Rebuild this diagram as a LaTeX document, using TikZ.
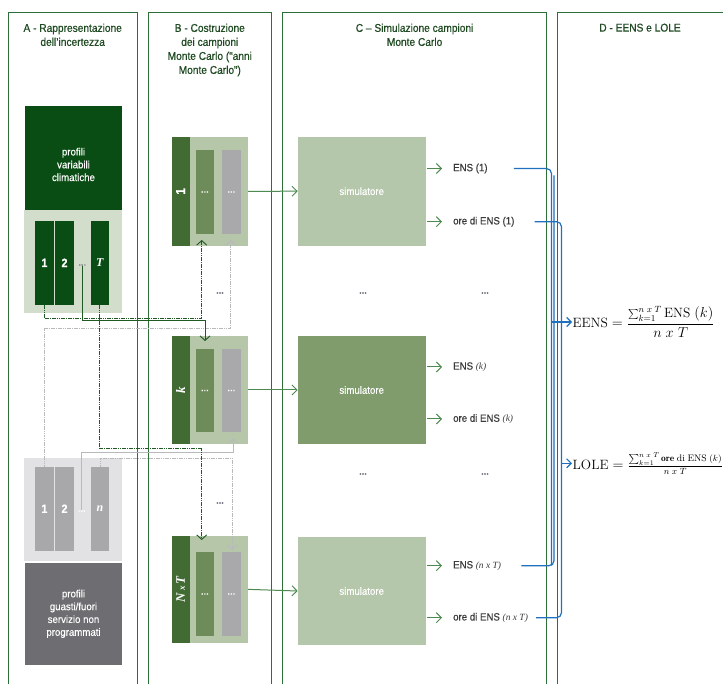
\documentclass[tikz,border=0pt]{standalone}
\usepackage{fontspec}
\newfontfamily\lsans{Liberation Sans}[FakeStretch=0.9, FakeBold=0.6]
\newfontfamily\lsansw{Liberation Sans}[FakeStretch=0.92, FakeBold=0.4]
\newfontfamily\lserif{Liberation Serif}
\usetikzlibrary{arrows.meta}
\definecolor{frameg}{HTML}{2E6E38}
\definecolor{titleg}{HTML}{1F4A22}
\definecolor{climdark}{HTML}{0A4D14}
\definecolor{climbg}{HTML}{D2DDCC}
\definecolor{outbg}{HTML}{E2E2E4}
\definecolor{outbar}{HTML}{A8A8AB}
\definecolor{outdark}{HTML}{6E6D71}
\definecolor{blkbg}{HTML}{B5C6A9}
\definecolor{stripg}{HTML}{416B33}
\definecolor{midbar}{HTML}{6E8B5A}
\definecolor{graybar}{HTML}{A9A9AC}
\definecolor{simlight}{HTML}{B5C7AA}
\definecolor{simdark}{HTML}{809B6C}
\definecolor{lineg}{HTML}{1E5A22}
\definecolor{linegray}{HTML}{B9B9BB}
\definecolor{arrowg}{HTML}{4E8A50}
\definecolor{bluec}{HTML}{2070C0}
\definecolor{textdark}{HTML}{3A3A3A}
\definecolor{dotsc}{HTML}{4A4E5E}
\tikzset{
  panel/.style={draw=frameg, line width=0.9pt},
  titletxt/.style={font=\lsans\fontsize{11.3}{14}\selectfont, text=titleg, align=center, anchor=north, inner sep=0pt},
  box/.style={rectangle, draw=none, inner sep=0pt, outer sep=0pt},
  wtxt/.style={text=white, font=\lsansw\fontsize{10.5}{12.8}\selectfont, align=center},
  barlbl/.style={text=white, font=\lsans\bfseries\fontsize{12}{12}\selectfont},
  dotsw/.style={text=white, font=\lsans\bfseries\fontsize{9}{9}\selectfont},
  dotsd/.style={text=dotsc, font=\lsans\bfseries\fontsize{9}{9}\selectfont, inner sep=0pt},
  lbl/.style={text=textdark, font=\lsansw\fontsize{10.5}{12}\selectfont, anchor=west, inner sep=0pt},
  tipA/.style={-{Straight Barb[length=4.5pt,width=10pt]}},
  climln/.style={draw=lineg, line width=0.9pt, tipA},
  climdot/.style={climln, dash pattern=on 1.6pt off 0.7pt},
  grayln/.style={draw=linegray, line width=0.9pt, tipA},
  graydot/.style={grayln, dash pattern=on 1.6pt off 0.7pt},
  simarrow/.style={draw=arrowg, line width=1pt, -{Straight Barb[length=5pt,width=10pt]}},
  blueln/.style={draw=bluec, line width=1.2pt},
  bluearrow/.style={blueln, -{Straight Barb[length=4.5pt,width=9pt]}}
}
\begin{document}
\begin{tikzpicture}[x=1pt,y=-1pt]
\useasboundingbox (0,0) rectangle (723,684);
\fill[white] (0,0) rectangle (723,684);
% panels
\draw[panel] (8.3,700) -- (8.3,12) -- (137,12) -- (137,700);
\draw[panel] (148,700) -- (148,12) -- (271.5,12) -- (271.5,700);
\draw[panel] (282.5,700) -- (282.5,12) -- (546.7,12) -- (546.7,700);
\draw[panel] (557.7,700) -- (557.7,12) -- (740,12);
% titles
\node[titletxt] (tA) at (72.7,23.5) {A - Rappresentazione\\dell’incertezza};
\node[titletxt] (tB) at (209.8,23.5) {B - Costruzione\\dei campioni\\Monte Carlo (“anni\\Monte Carlo”)};
\node[titletxt] (tC) at (414.6,23.5) {C – Simulazione campioni\\Monte Carlo};
\node[titletxt] (tD) at (640,23.5) {D - EENS e LOLE};

% ---------- A: climate ----------
\node[box, fill=climdark, minimum width=97pt, minimum height=104pt] (clim) at (73.5,158) {};
\node[wtxt] (climtxt) at (73.5,164.5) {profili\\variabili\\climatiche};
\node[box, fill=climbg, minimum width=98pt, minimum height=103pt] (climbg) at (73,261.5) {};
\node[box, fill=climdark, minimum width=19pt, minimum height=84.3pt, barlbl] (c1) at (44.5,262.85) {1};
\node[box, fill=climdark, minimum width=19pt, minimum height=84.3pt, barlbl] (c2) at (64.5,262.85) {2};
\node[box, fill=climdark, minimum width=18.3pt, minimum height=84.3pt, barlbl] (cT) at (99.85,262.85) {\lserif\bfseries\itshape T};
\node[dotsd, text=gray] (cd) at (82.3,265) {…};

% ---------- A: outages ----------
\node[box, fill=outbg, minimum width=98pt, minimum height=103.3pt] (outbgn) at (73,509.35) {};
\node[box, fill=outbar, minimum width=19pt, minimum height=84pt, barlbl] (o1) at (44.5,508.7) {1};
\node[box, fill=outbar, minimum width=19pt, minimum height=84pt, barlbl] (o2) at (64.5,508.7) {2};
\node[box, fill=outbar, minimum width=18pt, minimum height=84pt, barlbl] (on) at (100,508.7) {\lserif\itshape n};
\node[dotsd, text=white] (od) at (81.7,511) {…};
\node[box, fill=outdark, minimum width=97pt, minimum height=102.3pt, wtxt] (outdk) at (73.5,613.85) {profili\\guasti/fuori\\servizio non\\programmati};

% ---------- B: samples ----------
\foreach \nm/\cy/\h/\by/\lab in {b1/191.35/108.7/192/{\lsans\bfseries 1}, bk/390/108/390.5/{\lserif\bfseries\itshape k}, bN/589.35/107.3/594/{\lserif\bfseries\itshape N\,{\fontsize{9}{9}\selectfont x}\,T}}{
  \node[box, fill=blkbg, minimum width=76.3pt, minimum height=\h pt] (\nm) at (209.85,\cy) {};
  \node[box, fill=stripg, minimum width=17.8pt, minimum height=\h pt, text=white, font=\fontsize{13}{13}\selectfont] (\nm s) at (180.6,\cy) {\rotatebox{90}{\lab}};
  \node[box, fill=midbar, minimum width=18.3pt, minimum height=83.5pt, dotsw] (\nm m) at (204.85,\by) {…};
  \node[box, fill=graybar, minimum width=18.7pt, minimum height=83.5pt, dotsw] (\nm g) at (231.35,\by) {…};
}
\node[dotsd] (bd1) at (220,293) {…};
\node[dotsd] (bd2) at (220,503) {…};

% ---------- C: simulators ----------
\node[box, fill=simlight, minimum width=128pt, minimum height=109pt, wtxt] (s1) at (361.7,191.2) {simulatore};
\node[box, fill=simdark, minimum width=128pt, minimum height=108pt, wtxt] (sk) at (361.7,390) {simulatore};
\node[box, fill=simlight, minimum width=128pt, minimum height=108pt, wtxt] (sN) at (361.7,591) {simulatore};
\node[dotsd] (cd1) at (363,293) {…};
\node[dotsd] (cd2) at (485,293) {…};
\node[dotsd] (cd3) at (363,474) {…};
\node[dotsd] (cd4) at (485,474) {…};

\node[lbl] (e1) at (453,168.5) {ENS (1)};
\node[lbl] (o1l) at (453,221.7) {ore di ENS (1)};
\node[lbl] (ek) at (453,367) {ENS {\lserif\itshape\fontsize{9.5}{10}\selectfont (k)}};
\node[lbl] (okl) at (453,419) {ore di ENS {\lserif\itshape\fontsize{9.5}{10}\selectfont (k)}};
\node[lbl] (eN) at (453,565.7) {ENS {\lserif\itshape\fontsize{9.5}{10}\selectfont (n x T)}};
\node[lbl] (oNl) at (453,617.7) {ore di ENS {\lserif\itshape\fontsize{9.5}{10}\selectfont (n x T)}};

% block -> simulator arrows
\draw[simarrow] (b1.east) -- (s1.west);
\draw[simarrow] (bk.east) -- (sk.west);
\draw[simarrow] (bN.east) -- (sN.west);
% simulator -> outputs
\foreach \s/\t in {s1/e1, s1/o1l, sk/ek, sk/okl, sN/eN, sN/oNl}{
  \draw[simarrow, shorten <=1.5pt, shorten >=11pt] (\s.east |- \t.west) -- (\t.west);
}

% ---------- A -> B connectors ----------
\coordinate (c1c) at (201.7,318.3);  \coordinate (tc1) at (201.7,240);
\coordinate (cdc) at (205,320.7);    \coordinate (tcd) at (205,341);
\coordinate (cTc) at (201.7,448.3);  \coordinate (tcT) at (201.7,540);
\coordinate (o1c) at (230.7,328.3);  \coordinate (to1) at (230.7,240);
\coordinate (odc) at (233.3,452.7);  \coordinate (tod) at (233.3,438.3);
\coordinate (onc) at (232.3,458.2);  \coordinate (ton) at (232.3,550);
\draw[graydot] (o1.north) |- (o1c) -- (to1);
\draw[grayln] (od.north) |- (odc) -- (tod);
\draw[graydot] (on.north) |- (onc) -- (ton);
\draw[climdot] (c1.south) |- (c1c) -- (tc1);
\draw[climln] (cd.south) |- (cdc) -- (tcd);
\draw[climdot] (cT.south) |- (cTc) -- (tcT);

% ---------- D: formulas ----------
\node[inner sep=0.5pt, anchor=west, font=\fontsize{13.5}{16}\selectfont] (eens) at (572,322)
  {$\displaystyle \mathrm{EENS}=\frac{\sum_{k=1}^{n\;x\;T}\mathrm{ENS}\;(k)}{n\;x\;T}$};
\node[inner sep=0.5pt, anchor=west, font=\fontsize{13.5}{16}\selectfont] (lole) at (572,463.3)
  {$\mathrm{LOLE}=\frac{\sum_{k=1}^{n\;x\;T}\mathbf{ore}\;\mathrm{di\;ENS}\;(k)}{n\;x\;T}$};

% ---------- blue connectors ----------
\coordinate (jA) at (551.5,0);
\coordinate (jB) at (554,0);
\coordinate (jC) at (561.5,0);
\draw[blueln, rounded corners=5pt] ([xshift=26pt]e1.east) -| (jA |- eN.east);
\draw[blueln, rounded corners=5pt] ([xshift=20pt]eN.east) -| ([yshift=-7pt]jB |- e1.east);
\draw[blueln, rounded corners=5pt] ([xshift=20pt]o1l.east) -| (jC |- oNl.east) -- ([xshift=8pt]oNl.east);
\draw[bluearrow] (jA |- eens.west) -- (eens.west);
\draw[bluearrow] (jC |- lole.west) -- (lole.west);
\end{tikzpicture}
\end{document}
